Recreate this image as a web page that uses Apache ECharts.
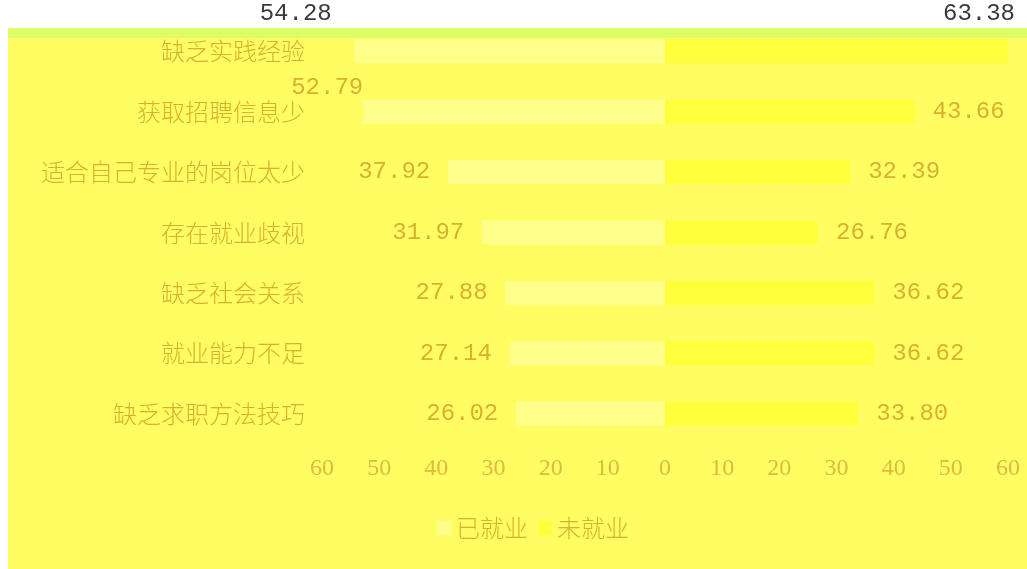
<!DOCTYPE html>
<html>
<head>
<meta charset="utf-8">
<script src="https://cdn.jsdelivr.net/npm/echarts@6/dist/echarts.min.js"></script>
<style>
html,body{margin:0;padding:0;background:#fff;}
#chart{width:1027px;height:569px;}
</style>
</head>
<body>
<div id="chart"></div>
<script>
const categories = ['缺乏实践经验','获取招聘信息少','适合自己专业的岗位太少','存在就业歧视','缺乏社会关系','就业能力不足','缺乏求职方法技巧'];
const employed = [54.28, 52.79, 37.92, 31.97, 27.88, 27.14, 26.02];
const unemployed = [63.38, 43.66, 32.39, 26.76, 36.62, 36.62, 33.80];
const seriesNames = ['已就业', '未就业'];
const axisMin = 0, axisMax = 60, axisStep = 10;

const gold = '#D8B130';
const goldLight = '#DDBA40';
const numFont = '"Liberation Mono", monospace';
const cjkFont = '"Noto Sans CJK SC", sans-serif';

// per-item label adjustments (label styling only)
const leftLabelAdj = {0: {offset: [-5, -38], color: '#3a3a3a'}, 1: {offset: [18, -24]}};
const rightLabelAdj = {0: {offset: [-83, -38], color: '#3a3a3a'}};

function buildData(vals, adj) {
  return vals.map((v, i) => {
    const item = {value: v};
    if (adj[i]) item.label = Object.assign({}, adj[i]);
    return item;
  });
}

const chart = echarts.init(document.getElementById('chart'), null, {renderer: 'canvas'});
const valueAxisBase = {
  type: 'value', min: axisMin, max: axisMax, interval: axisStep,
  axisLine: {show: false}, axisTick: {show: false}, splitLine: {show: false},
  axisLabel: {color: goldLight, fontFamily: '"Liberation Serif", serif', fontSize: 24, margin: 13}
};
const option = {
  backgroundColor: '#ffffff',
  animation: false,
  graphic: [
    {type: 'rect', z: -10, silent: true, shape: {x: 8, y: 28, width: 1019, height: 541}, style: {fill: '#FFFD62'}},
    {type: 'rect', z: -9, silent: true, shape: {x: 8, y: 28, width: 1019, height: 10}, style: {fill: '#DDFD66'}}
  ],
  legend: {
    data: seriesNames,
    left: 432, top: 511,
    itemWidth: 14, itemHeight: 14, itemGap: 10,
    icon: 'rect',
    textStyle: {color: gold, fontFamily: cjkFont, fontSize: 24, fontWeight: 300}
  },
  grid: [
    {left: 322, width: 343, top: 21, height: 423},
    {left: 665, width: 343, top: 21, height: 423}
  ],
  xAxis: [
    Object.assign({}, valueAxisBase, {gridIndex: 0, inverse: true}),
    Object.assign({}, valueAxisBase, {gridIndex: 1, axisLabel: Object.assign({}, valueAxisBase.axisLabel, {showMinLabel: false})})
  ],
  yAxis: [
    {type: 'category', gridIndex: 0, data: categories, inverse: true, position: 'left',
     axisLine: {show: false}, axisTick: {show: false},
     axisLabel: {color: gold, fontFamily: cjkFont, fontSize: 24, fontWeight: 300, margin: 17}},
    {type: 'category', gridIndex: 1, data: categories, inverse: true,
     axisLine: {show: false}, axisTick: {show: false}, axisLabel: {show: false}}
  ],
  series: [
    {name: seriesNames[0], type: 'bar', xAxisIndex: 0, yAxisIndex: 0, barWidth: 24,
     itemStyle: {color: '#FFFF8C'},
     label: {show: true, position: 'left', distance: 18, color: gold, fontFamily: numFont, fontSize: 24,
             formatter: p => p.value.toFixed(2)},
     data: buildData(employed, leftLabelAdj)},
    {name: seriesNames[1], type: 'bar', xAxisIndex: 1, yAxisIndex: 1, barWidth: 24,
     itemStyle: {color: '#FFFF3C'},
     label: {show: true, position: 'right', distance: 18, color: gold, fontFamily: numFont, fontSize: 24,
             formatter: p => p.value.toFixed(2)},
     data: buildData(unemployed, rightLabelAdj)}
  ]
};
chart.setOption(option);
</script>
</body>
</html>
